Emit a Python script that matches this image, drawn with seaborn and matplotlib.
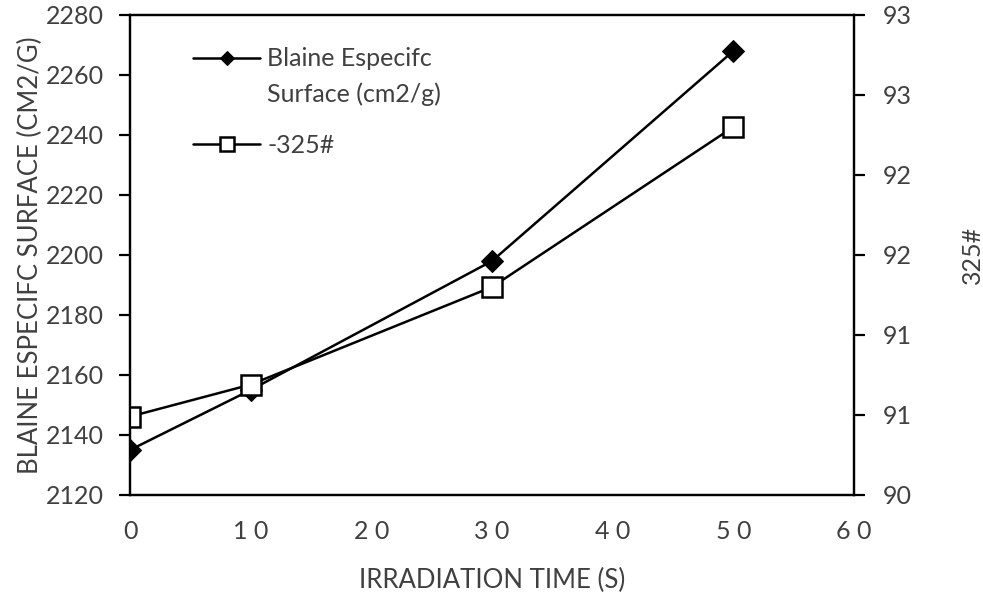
import matplotlib
matplotlib.use("Agg")
import matplotlib.pyplot as plt
import seaborn as sns
import pandas as pd
from matplotlib.ticker import FixedLocator, FixedFormatter
from matplotlib.legend_handler import HandlerLine2D
from matplotlib.transforms import Affine2D

# Irradiation time (s) and measured properties
time_s = [0, 10, 30, 50]
blaine = [2135, 2155, 2198, 2268]          # cm2/g
pass_325 = [90.49, 90.69, 91.30, 92.30]     # % passing -325#

x_ticks = [0, 10, 20, 30, 40, 50, 60]
x_tick_labels = ["0", "1 0", "2 0", "3 0", "4 0", "5 0", "6 0"]
left_ticks = [2120, 2140, 2160, 2180, 2200, 2220, 2240, 2260, 2280]
right_ticks = [90, 90.5, 91, 91.5, 92, 92.5, 93]
right_tick_labels = ["90", "91", "91", "92", "92", "93", "93"]

sns.set_theme(style="white")
plt.rcParams["font.family"] = ["Lato", "DejaVu Sans"]
text_color = "#404040"


class RaisedLineHandler(HandlerLine2D):
    """Legend handle drawn level with the first line of a two-line label."""

    def __init__(self, raise_pts, **kw):
        super().__init__(**kw)
        self.raise_pts = raise_pts

    def create_artists(self, legend, orig_handle, xdescent, ydescent,
                       width, height, fontsize, trans):
        artists = super().create_artists(legend, orig_handle, xdescent, ydescent,
                                         width, height, fontsize, trans)
        shifted = Affine2D().translate(0, self.raise_pts) + trans
        for a in artists:
            a.set_transform(shifted)
        return artists


df = pd.DataFrame({"time": time_s, "blaine": blaine, "pass": pass_325})

fig = plt.figure(figsize=(9.83, 5.95), dpi=100)
ax = fig.add_axes([130 / 983, 1 - 495 / 595, (854 - 130) / 983, (495 - 15) / 595])
ax2 = ax.twinx()

sns.lineplot(data=df, x="time", y="blaine", ax=ax, color="black", linewidth=1.8,
             marker="D", markersize=11, markerfacecolor="black",
             markeredgecolor="black", label="Blaine Especifc\nSurface (cm2/g)",
             legend=False)
sns.lineplot(data=df, x="time", y="pass", ax=ax2, color="black", linewidth=1.8,
             marker="s", markersize=14.5, markerfacecolor="white",
             markeredgecolor="black", markeredgewidth=1.8, label="-325#",
             legend=False)

ax.set_xlim(0, 60)
ax.set_ylim(2120, 2280)
ax2.set_ylim(90, 93)

ax.xaxis.set_major_locator(FixedLocator(x_ticks))
ax.xaxis.set_major_formatter(FixedFormatter(x_tick_labels))
ax.yaxis.set_major_locator(FixedLocator(left_ticks))
ax2.yaxis.set_major_locator(FixedLocator(right_ticks))
ax2.yaxis.set_major_formatter(FixedFormatter(right_tick_labels))

for a in (ax, ax2):
    for s in a.spines.values():
        s.set_color("black")
        s.set_linewidth(1.6)
    a.tick_params(axis="both", which="major", length=8, width=1.6,
                  color="black", labelcolor=text_color, labelsize=18,
                  direction="out")
ax.tick_params(axis="x", pad=10)
ax.tick_params(axis="y", pad=11)
ax2.tick_params(axis="y", pad=13)

ax.set_xlabel("IRRADIATION TIME (S)", fontsize=18.5, color=text_color, labelpad=18)
ax.set_ylabel("BLAINE ESPECIFC SURFACE (CM2/G)", fontsize=18.5, color=text_color, labelpad=2)
ax2.set_ylabel("325#", fontsize=18, color=text_color, labelpad=35)

h1, l1 = ax.get_legend_handles_labels()
h2, l2 = ax2.get_legend_handles_labels()
leg = ax.legend(h1 + h2, l1 + l2, loc="upper left", bbox_to_anchor=(0.087, 0.934),
                frameon=False, fontsize=18, handlelength=2.7, handletextpad=0.28,
                labelspacing=1.12, borderpad=0, borderaxespad=0, markerscale=0.65,
                labelcolor=text_color,
                handler_map={h1[0]: RaisedLineHandler(13.5)})
for t in leg.get_texts():
    t.set_linespacing(1.65)

fig.savefig("out.png", dpi=100)
